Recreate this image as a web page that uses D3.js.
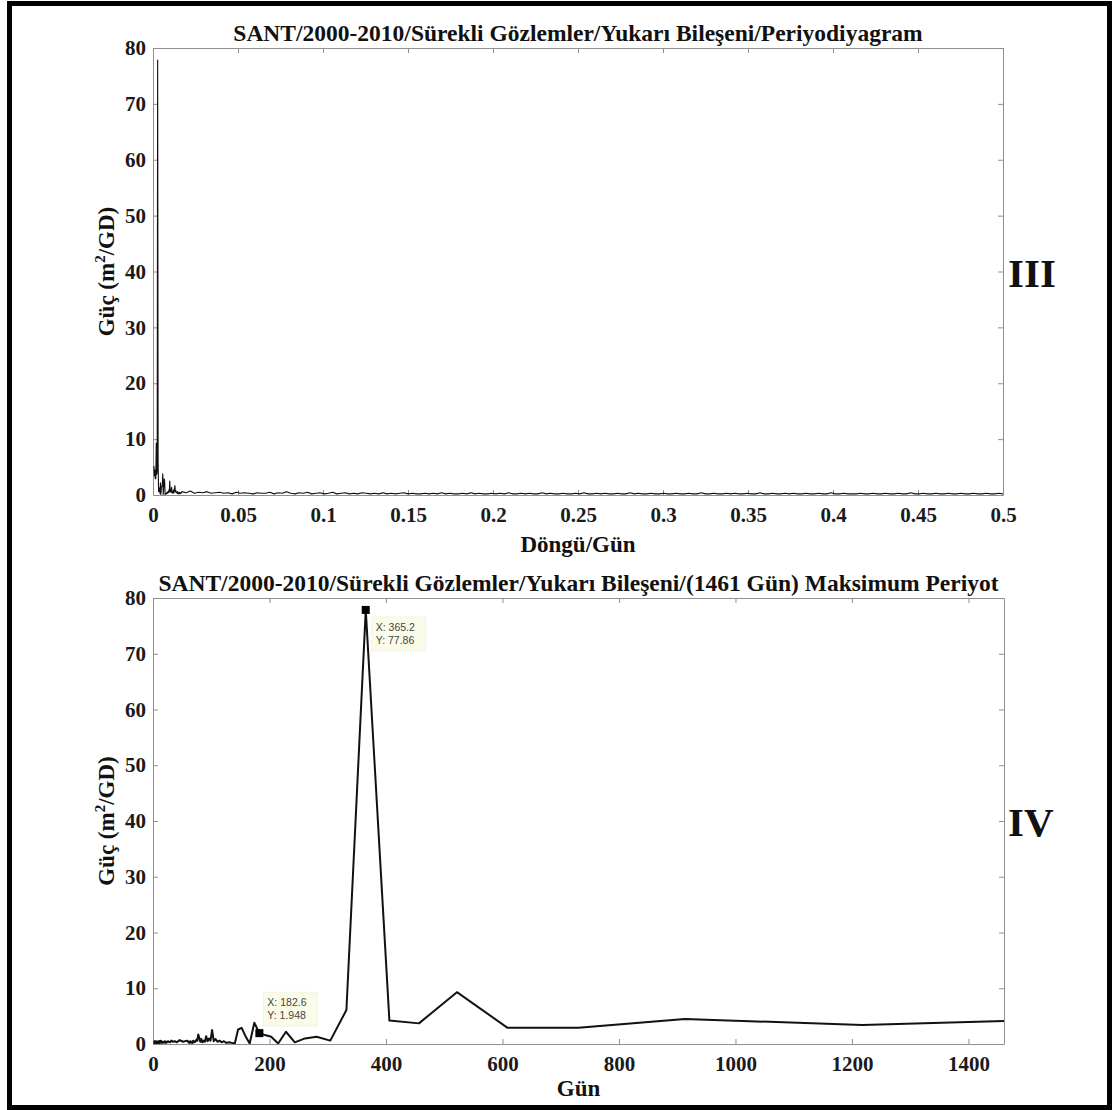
<!DOCTYPE html>
<html><head><meta charset="utf-8">
<script src="https://cdn.jsdelivr.net/npm/d3@7"></script>
<style>body{margin:0;background:#fff}svg{display:block}</style>
</head><body>
<svg id="c" width="1112" height="1110"></svg>
<script>
// ---------- data ----------
const recordLength = 3652.5; // days spanned by the spectral grid (frequency = harmonic / recordLength)
const lowHarmonics = [2,3,4,5,6,7,8,9,10,11,12,13,14,15,16,17,18,19,20,21,22,23,24,25,26,27,28,29,30,31,32,33,34,35,36,37,38,39,40,41,42,43,44,45,46,47,48,49,50,51,52,53,54,55,56,57,58,59,60];
const lowPower = [5.2,3.4,4.5,2.9,2.9,9.3,3.7,4.2,77.86,6.1,0.6,1.3,1.0,0.3,2.2,0.1,1.3,1.6,1.948,3.8,0.1,1.4,2.9,2.6,0.1,0.2,0.3,0.2,0.5,0.3,0.6,0.4,0.9,0.5,2.5,0.6,1.0,0.5,1.4,0.4,0.6,0.3,0.9,0.4,1.1,1.7,0.6,0.8,0.4,0.5,0.3,0.6,0.2,0.4,0.3,0.5,0.2,0.4,0.3];
const tailStartHarmonic = 62, tailStepHarmonic = 9;
const tailPower = [
0.6,0.4,0.7,0.3,0.5,0.4,0.6,0.3,0.4,0.5,0.3,0.4,0.2,0.5,0.3,0.4,0.3,0.2,0.4,0.3,
0.3,0.5,0.2,0.4,0.3,0.6,0.3,0.2,0.4,0.3,0.5,0.2,0.3,0.4,0.2,0.3,0.5,0.2,0.3,0.4,
0.2,0.3,0.2,0.4,0.3,0.2,0.3,0.2,0.4,0.2,0.3,0.2,0.3,0.4,0.2,0.3,0.2,0.2,0.3,0.2,
0.3,0.2,0.4,0.2,0.3,0.2,0.2,0.3,0.2,0.4,0.2,0.3,0.2,0.2,0.3,0.2,0.3,0.2,0.4,0.2,
0.2,0.3,0.2,0.3,0.2,0.2,0.4,0.2,0.3,0.2,0.2,0.3,0.2,0.2,0.3,0.2,0.4,0.2,0.2,0.3,
0.2,0.3,0.2,0.2,0.3,0.2,0.2,0.4,0.2,0.3,0.2,0.2,0.3,0.2,0.2,0.3,0.2,0.2,0.3,0.2,
0.2,0.3,0.2,0.2,0.4,0.2,0.2,0.3,0.2,0.2,0.3,0.2,0.3,0.2,0.2,0.3,0.2,0.2,0.4,0.2,
0.2,0.3,0.2,0.2,0.3,0.2,0.3,0.2,0.2,0.3,0.2,0.2,0.3,0.2,0.2,0.4,0.2,0.2,0.3,0.2,
0.2,0.2,0.3,0.2,0.2,0.3,0.2,0.2,0.3,0.2,0.2,0.3,0.2,0.2,0.4,0.2,0.2,0.3,0.2,0.2,
0.3,0.2,0.2,0.3,0.2,0.2,0.3,0.2,0.2,0.3,0.2,0.2,0.3,0.2,0.2,0.3,0.2];
const freqTicks = [0,0.05,0.1,0.15,0.2,0.25,0.3,0.35,0.4,0.45,0.5];
const freqTickLabels = ["0","0.05","0.1","0.15","0.2","0.25","0.3","0.35","0.4","0.45","0.5"];
const powerTicks = [0,10,20,30,40,50,60,70,80];
const periodTicks = [0,200,400,600,800,1000,1200,1400];
const periodMax = 1461;
const dataTips = [{x:365.2, y:77.86, label:["X: 365.2","Y: 77.86"]},{x:182.6, y:1.948, label:["X: 182.6","Y: 1.948"]}];
const titleTop = "SANT/2000-2010/Sürekli Gözlemler/Yukarı Bileşeni/Periyodiyagram";
const titleBottom = "SANT/2000-2010/Sürekli Gözlemler/Yukarı Bileşeni/(1461 Gün) Maksimum Periyot";
const xLabelTop = "Döngü/Gün", xLabelBottom = "Gün";
const panelLabels = ["III","IV"];

// ---------- build spectrum ----------
const spectrum = lowHarmonics.map((k,i)=>({k, p: lowPower[i]}))
  .concat(tailPower.map((p,i)=>({k: tailStartHarmonic + i*tailStepHarmonic, p})));
spectrum.forEach(d=>{ d.f = d.k/recordLength; d.T = recordLength/d.k; });

const svg = d3.select("#c");
const serif = "'Liberation Serif','Times New Roman',serif";
const axisGray = "#8f8f8f";

svg.append("rect").attr("x",9.5).attr("y",3.5).attr("width",1100).attr("height",1104)
  .attr("fill","none").attr("stroke","#000").attr("stroke-width",5);

function panel(cfg){
  const {x, y, clipId} = cfg;
  const g = svg.append("g");
  g.append("clipPath").attr("id",clipId).append("rect")
    .attr("x",x.range()[0]).attr("y",y.range()[1]).attr("width",x.range()[1]-x.range()[0]).attr("height",y.range()[0]-y.range()[1]);
  const style = sel => {
    sel.selectAll(".domain").attr("stroke",axisGray).attr("stroke-width",1);
    sel.selectAll(".tick line").attr("stroke",axisGray);
    sel.selectAll("text").attr("font-family",serif).attr("font-weight","bold").attr("font-size",21).attr("fill","#1a1a1a");
  };
  const x0 = x.range()[0], x1 = x.range()[1], y0 = y.range()[0], y1 = y.range()[1];
  g.append("g").attr("transform",`translate(0,${y0})`)
    .call(cfg.bottomAxis.tickSizeInner(-5).tickSizeOuter(0).tickPadding(12)).call(style);
  g.append("g").attr("transform",`translate(0,${y1})`)
    .call(cfg.topAxis.tickSizeInner(-5).tickSizeOuter(0).tickFormat("")).call(style);
  g.append("g").attr("transform",`translate(${x0},0)`)
    .call(d3.axisLeft(y).tickValues(powerTicks).tickSizeInner(-5).tickSizeOuter(0).tickPadding(7)).call(style);
  g.append("g").attr("transform",`translate(${x1},0)`)
    .call(d3.axisRight(y).tickValues(powerTicks).tickSizeInner(-5).tickSizeOuter(0).tickFormat("")).call(style);
  // line
  g.append("path").datum(cfg.data).attr("clip-path",`url(#${clipId})`)
    .attr("fill","none").attr("stroke","#111").attr("stroke-width",cfg.lw).attr("stroke-linejoin","round")
    .attr("d", d3.line().x(cfg.xv).y(d=>y(d.p)));
  // title
  g.append("text").attr("x",(x0+x1)/2).attr("y",y1-7).attr("text-anchor","middle")
    .attr("font-family",serif).attr("font-weight","bold").attr("font-size",23.5).attr("fill","#111").text(cfg.title);
  // x label
  g.append("text").attr("x",(x0+x1)/2).attr("y",y0+cfg.xlOff).attr("text-anchor","middle")
    .attr("font-family",serif).attr("font-weight","bold").attr("font-size",23).attr("fill","#111").text(cfg.xlabel);
  // y label
  const yl = g.append("text").attr("transform",`translate(114,${(y0+y1)/2}) rotate(-90)`).attr("text-anchor","middle")
    .attr("font-family",serif).attr("font-weight","bold").attr("font-size",23).attr("fill","#111");
  yl.append("tspan").text("Güç (m");
  yl.append("tspan").attr("dy",-9).attr("font-size",15).text("2");
  yl.append("tspan").attr("dy",9).text("/GD)");
  // panel label
  g.append("text").attr("x",1008).attr("y",(y0+y1)/2+15).attr("font-family",serif).attr("font-weight","bold")
    .attr("font-size",41).attr("fill","#111").text(cfg.panel);
  return g;
}

const xTop = d3.scaleLinear().domain([0,0.5]).range([153,1003]);
const yTop = d3.scaleLinear().domain([0,80]).range([495,48]);
panel({x:xTop, y:yTop, clipId:"clipTop", lw:1.1,
  bottomAxis: d3.axisBottom(xTop).tickValues(freqTicks).tickFormat((d,i)=>freqTickLabels[i]),
  topAxis: d3.axisTop(xTop).tickValues(freqTicks),
  data: spectrum.slice().sort((a,b)=>a.f-b.f), xv: d=>xTop(d.f),
  title: titleTop, xlabel: xLabelTop, xlOff: 57, panel: panelLabels[0]});

const xBot = d3.scaleLinear().domain([0,periodMax]).range([153,1004]);
const yBot = d3.scaleLinear().domain([0,80]).range([1044,598]);
const gb = panel({x:xBot, y:yBot, clipId:"clipBot", lw:2,
  bottomAxis: d3.axisBottom(xBot).tickValues(periodTicks).tickFormat(d3.format("d")),
  topAxis: d3.axisTop(xBot).tickValues(periodTicks),
  data: spectrum.slice().sort((a,b)=>a.T-b.T), xv: d=>xBot(d.T),
  title: titleBottom, xlabel: xLabelBottom, xlOff: 52, panel: panelLabels[1]});

// data tips
const tipOffsets = [{dx:6, dy:7}, {dx:4, dy:-41}];
dataTips.forEach((t,i)=>{
  const px = xBot(t.x), py = yBot(t.y), o = tipOffsets[i];
  gb.append("rect").attr("x",px+o.dx).attr("y",py+o.dy).attr("width",54).attr("height",34)
    .attr("fill","#fbfbea").attr("stroke","#e6e6cf").attr("stroke-width",0.8).attr("stroke-dasharray","1,1");
  t.label.forEach((s,j)=>{
    gb.append("text").attr("x",px+o.dx+4).attr("y",py+o.dy+14+j*13)
      .attr("font-family","'Liberation Sans',Arial,sans-serif").attr("font-size",10.5).attr("fill","#444").text(s);
  });
  gb.append("rect").attr("x",px-4).attr("y",py-4).attr("width",8).attr("height",8).attr("fill","#000");
});
</script>
</body></html>
